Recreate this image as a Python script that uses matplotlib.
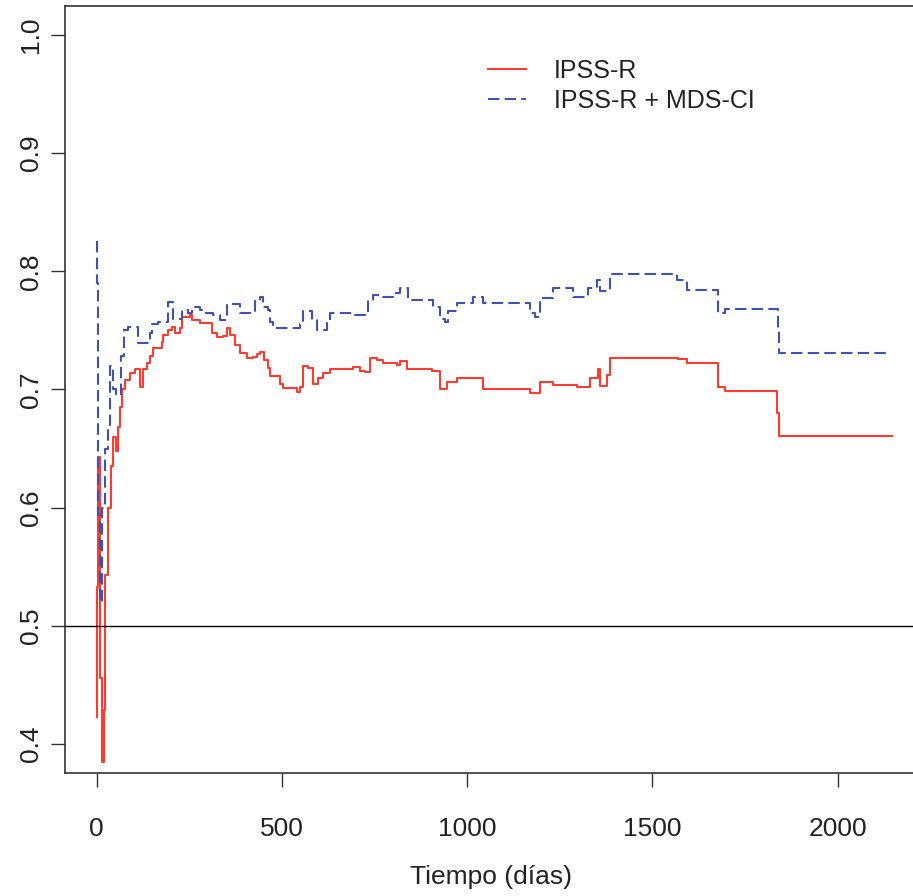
import matplotlib
matplotlib.use("Agg")
import matplotlib.pyplot as plt

# --- data: time-dependent AUC (step functions) ---
ipss_t = [0, 2, 5, 9, 14, 20, 24, 30, 38, 45, 52, 58, 63, 70, 77, 90, 104, 117, 125, 136,
          144, 152, 177, 179, 193, 204, 212, 225, 231, 252, 258, 279, 312, 325, 341, 352,
          360, 374, 387, 406, 422, 433, 441, 452, 463, 468, 495, 503, 541, 549, 557, 570,
          584, 597, 611, 630, 692, 710, 724, 738, 757, 773, 811, 819, 838, 905, 927, 946,
          972, 1043, 1170, 1196, 1232, 1296, 1331, 1353, 1358, 1377, 1385, 1569, 1593,
          1677, 1696, 1836, 1841, 2146]
ipss_auc = [0.423, 0.533, 0.643, 0.456, 0.385, 0.429, 0.543, 0.600, 0.635, 0.660, 0.648,
            0.668, 0.685, 0.700, 0.708, 0.714, 0.717, 0.702, 0.717, 0.722, 0.728, 0.735,
            0.740, 0.746, 0.750, 0.753, 0.748, 0.752, 0.761, 0.763, 0.759, 0.756, 0.748,
            0.744, 0.745, 0.752, 0.746, 0.738, 0.731, 0.727, 0.7275, 0.730, 0.732, 0.725,
            0.718, 0.711, 0.705, 0.701, 0.698, 0.702, 0.720, 0.718, 0.705, 0.710, 0.714,
            0.717, 0.719, 0.716, 0.715, 0.727, 0.725, 0.722, 0.721, 0.724, 0.717, 0.716,
            0.700, 0.706, 0.710, 0.700, 0.697, 0.706, 0.704, 0.702, 0.710, 0.717, 0.703,
            0.712, 0.727, 0.726, 0.7225, 0.702, 0.699, 0.680, 0.661, 0.661]

mdsci_t = [0, 1, 2, 3, 5, 10, 16, 22, 30, 36, 45, 52, 65, 75, 85, 112, 144, 150, 166,
           193, 206, 231, 247, 258, 279, 293, 314, 333, 352, 387, 428, 441, 449, 463, 468,
           476, 549, 557, 581, 595, 622, 630, 692, 733, 746, 765, 800, 819, 840, 908, 927,
           940, 948, 972, 1016, 1043, 1170, 1183, 1196, 1232, 1286, 1326, 1350, 1358, 1385,
           1566, 1593, 1677, 1696, 1839, 1841, 2133]
mdsci_auc = [0.826, 0.810, 0.790, 0.760, 0.594, 0.520, 0.600, 0.650, 0.670, 0.720, 0.700,
             0.695, 0.728, 0.750, 0.753, 0.739, 0.748, 0.755, 0.757, 0.774, 0.760, 0.767,
             0.765, 0.770, 0.767, 0.765, 0.763, 0.759, 0.772, 0.765, 0.776, 0.778, 0.770,
             0.767, 0.757, 0.752, 0.755, 0.766, 0.759, 0.750, 0.757, 0.765, 0.763, 0.776,
             0.780, 0.778, 0.782, 0.786, 0.776, 0.770, 0.760, 0.757, 0.766, 0.773, 0.778,
             0.773, 0.765, 0.761, 0.777, 0.786, 0.778, 0.786, 0.793, 0.783, 0.798, 0.793,
             0.784, 0.765, 0.768, 0.750, 0.731, 0.731]

labels = ["IPSS-R", "IPSS-R + MDS-CI"]
xticks = [0, 500, 1000, 1500, 2000]
yticks = [0.4, 0.5, 0.6, 0.7, 0.8, 0.9, 1.0]
ref_line = 0.5

plt.rcParams['font.family'] = ['Liberation Sans', 'DejaVu Sans']

W, H = 913, 896
fig = plt.figure(figsize=(W / 100, H / 100), dpi=100)
ax = fig.add_axes([65 / W, (H - 773) / H, (917 - 65) / W, (773 - 6) / H])

ax.step(ipss_t, ipss_auc, where='post', color='#FF3B30', lw=1.5, label=labels[0])
ax.step(mdsci_t, mdsci_auc, where='post', color='#3F51B5', lw=1.5,
        ls=(0, (5.5, 2.5)), label=labels[1])
ax.axhline(ref_line, color='black', lw=1.0)

ax.set_xlim(-85, 2214)
ax.set_ylim(0.3755, 1.0245)
ax.set_xticks(xticks)
ax.set_xticklabels([str(v) for v in xticks], fontsize=19, color='#222222')
ax.set_yticks(yticks)
ax.set_yticklabels([f"{v:.1f}" for v in yticks], fontsize=19, rotation=90,
                   va='center', color='#222222')
ax.tick_params(axis='both', direction='out', length=10, width=1.0, color='#333333')
ax.tick_params(axis='x', pad=22)
ax.tick_params(axis='y', pad=6)
for s in ax.spines.values():
    s.set_color('#333333')
    s.set_linewidth(1.2)

ax.set_xlabel("Tiempo (días)", fontsize=19, color='#222222', labelpad=17)

leg = ax.legend(loc='upper left', bbox_to_anchor=(465 / W, 1 - 36 / H),
                bbox_transform=fig.transFigure, frameon=False, fontsize=18,
                handlelength=1.55, handletextpad=1.1, labelspacing=0.25)
for t in leg.get_texts():
    t.set_color('#222222')

fig.savefig("out.png", dpi=100)
